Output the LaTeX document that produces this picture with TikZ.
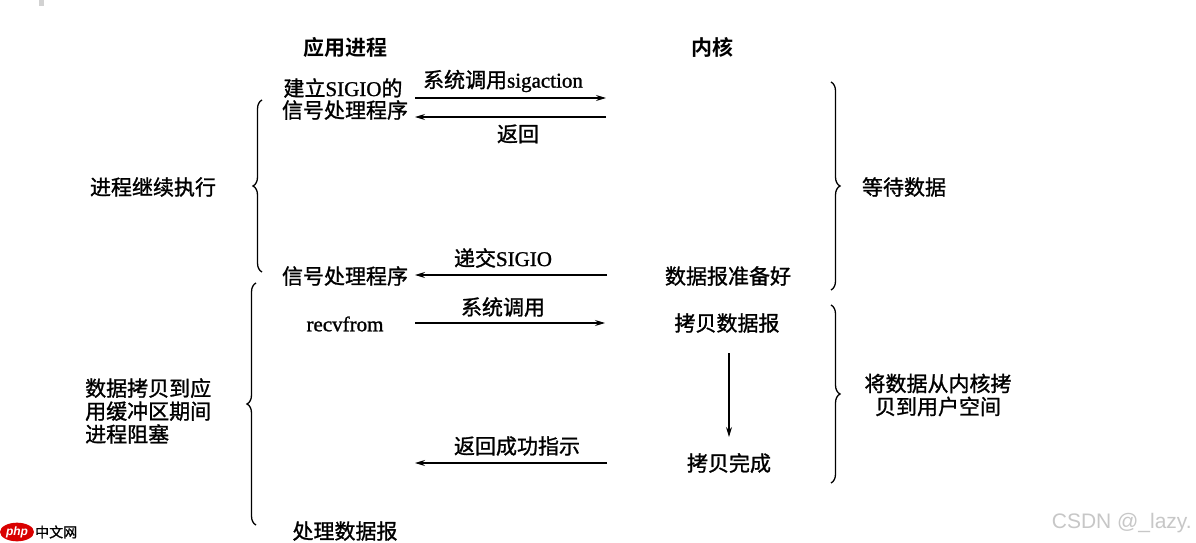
\documentclass[tikz,border=0pt]{standalone}
\usepackage{fontspec}
\setmainfont{Liberation Serif}[FakeBold=1.2]
\newfontfamily\cjk{Noto Sans CJK SC}[FakeBold=1.2]
\newfontfamily\cjkhdr{Noto Sans CJK SC Bold}
\newfontfamily\wmfont{Liberation Sans}
\usetikzlibrary{arrows.meta,decorations.pathreplacing,shapes.geometric}
\begin{document}
\begin{tikzpicture}[x=1pt,y=-1pt,
  txt/.style={inner sep=0pt, font=\fontsize{21}{24}\selectfont\cjk, text=black},
  hdr/.style={inner sep=0pt, font=\fontsize{21}{24}\selectfont\cjkhdr, text=black},
  arr/.style={line width=1.1pt, -{Stealth[length=10pt,width=6pt]}},
  bracestyle/.style={decorate, decoration={brace, amplitude=9pt}, line width=1.3pt}]
\useasboundingbox (0,0) rectangle (1196,543);
\fill[white] (0,0) rectangle (1196,543);
% small grey mark top-left
\fill[gray!35] (39,0) rectangle (44,6);
% headers
\node[hdr] (happ) at (345,47) {应用进程};
\node[hdr] (hker) at (712,47) {内核};
% first exchange
\node[txt] (setup1) at (343,88) {建立\rmfamily SIGIO\cjk 的};
\node[txt] (setup2) at (345,110) {信号处理程序};
\coordinate (c1a) at (415,98);
\coordinate (c1b) at (606,98);
\draw[arr] (c1a) -- (c1b);
\node[txt] (lsig) at (503,81) {系统调用\rmfamily sigaction};
\coordinate (c2a) at (606,117);
\coordinate (c2b) at (415,117);
\draw[arr] (c2a) -- (c2b);
\node[txt] (lret) at (518,134) {返回};
% braces labels
\node[txt] (cont) at (153,187) {进程继续执行};
\node[txt] (wait) at (904,187) {等待数据};
% SIGIO delivery
\node[txt] (handler) at (345,276) {信号处理程序};
\node[txt] (ready) at (728,276) {数据报准备好};
\coordinate (c3a) at (607,275);
\coordinate (c3b) at (415,275);
\draw[arr] (c3a) -- (c3b);
\node[txt] (ldeliver) at (503,258) {递交\rmfamily SIGIO};
% recvfrom
\node[txt, font=\fontsize{21}{24}\selectfont\rmfamily] (recv) at (345,324) {recvfrom};
\node[txt] (copy) at (727,323) {拷贝数据报};
\coordinate (c4a) at (415,323);
\coordinate (c4b) at (605,323);
\draw[arr] (c4a) -- (c4b);
\node[txt] (lsys) at (503,307) {系统调用};
% copy done
\coordinate (c5a) at (729,353);
\coordinate (c5b) at (729,437);
\node[txt] (done) at (729,463) {拷贝完成};
\draw[arr] (c5a) -- (c5b);
\coordinate (c6a) at (607,463);
\coordinate (c6b) at (415,463);
\draw[arr] (c6a) -- (c6b);
\node[txt] (lok) at (517,446) {返回成功指示};
% blocked text
\node[txt, anchor=west, align=left, font=\fontsize{21}{23}\selectfont\cjk] (block) at (85,411) {数据拷贝到应\\用缓冲区期间\\进程阻塞};
\node[txt, align=center, font=\fontsize{21}{23}\selectfont\cjk] (kcopy) at (938,395) {将数据从内核拷\\贝到用户空间};
\node[txt] (proc) at (345,531) {处理数据报};
% braces
\draw[bracestyle] (262,272) -- (262,100);
\draw[bracestyle] (256,525) -- (256,283);
\draw[bracestyle] (831,82) -- (831,290);
\draw[bracestyle] (831,305) -- (831,483);
% watermarks
\node[inner sep=0pt, anchor=east, text=black!22, font=\fontsize{21}{24}\selectfont\wmfont] (wm) at (1192,523) {CSDN @\_lazy.};
\node[fill=red!85!black, ellipse, inner sep=1pt, text=white, font=\fontsize{12}{12}\selectfont\wmfont\itshape\bfseries] (phpl) at (17,532) {php};
\node[inner sep=0pt, anchor=west, text=black, font=\fontsize{14}{14}\selectfont\cjk] (phpt) at (35,532) {中文网};
\end{tikzpicture}
\end{document}
